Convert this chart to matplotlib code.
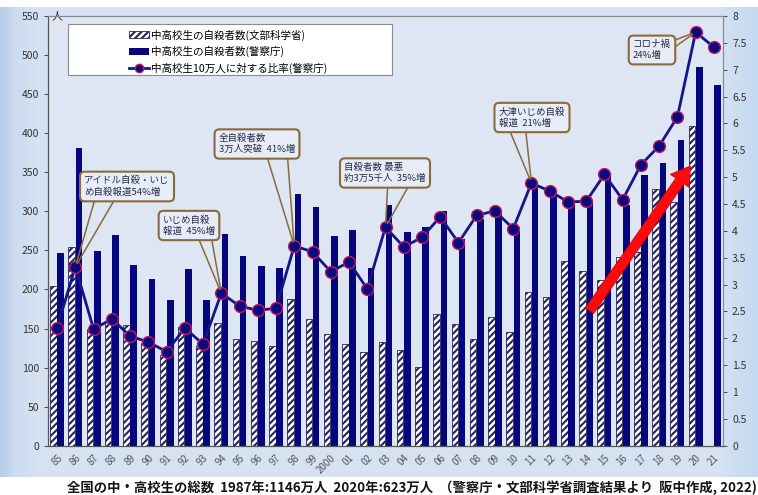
import numpy as np
import matplotlib
matplotlib.use('Agg')
import matplotlib.pyplot as plt
from matplotlib.patches import Patch, Rectangle
from matplotlib.lines import Line2D

plt.rcParams['font.family'] = ['Noto Sans CJK JP', 'DejaVu Sans']
plt.rcParams['hatch.linewidth'] = 1.5

# --- data ---
years = ['85', '86', '87', '88', '89', '90', '91', '92', '93', '94', '95', '96',
         '97', '98', '99', '2000', '01', '02', '03', '04', '05', '06', '07', '08',
         '09', '10', '11', '12', '13', '14', '15', '16', '17', '18', '19', '20', '21']
mext = [205, 254, 150, 160, 154, 131, 116, 152, 127, 157, 136, 134,
        127, 188, 162, 143, 130, 120, 133, 122, 101, 169, 156, 136,
        165, 146, 197, 190, 236, 223, 212, 241, 248, 328, 312, 409, np.nan]
police = [247, 381, 249, 270, 231, 214, 187, 226, 187, 271, 243, 230,
          228, 322, 306, 269, 276, 228, 308, 274, 280, 300, 265, 290,
          300, 280, 331, 323, 310, 312, 345, 308, 346, 362, 391, 485, 462]
rate = [2.20, 3.33, 2.17, 2.36, 2.04, 1.93, 1.75, 2.19, 1.89, 2.84, 2.60, 2.52,
        2.56, 3.72, 3.61, 3.24, 3.42, 2.92, 4.07, 3.70, 3.88, 4.26, 3.78, 4.29,
        4.37, 4.04, 4.89, 4.74, 4.54, 4.55, 5.05, 4.58, 5.23, 5.58, 6.12, 7.70, 7.42]

legend_labels = ['中高校生の自殺者数(文部科学省)',
                 '中高校生の自殺者数(警察庁)',
                 '中高校生10万人に対する比率(警察庁)']

note_texts = ['アイドル自殺・いじ\nめ自殺報道54%増',
              'いじめ自殺\n報道  45%増',
              '全自殺者数\n3万人突破  41%増',
              '自殺者数 最悪\n約3万5千人  35%増',
              '大津いじめ自殺\n報道  21%増',
              'コロナ禍\n24%増']
note_years = ['86', '94', '98', '03', '11', '20']

footer = '全国の中・高校生の総数  1987年:1146万人  2020年:623万人  （警察庁・文部科学省調査結果より  阪中作成, 2022)'

navy = '#05057e'
brown = '#8a6a3c'

W, H = 758, 495
fig = plt.figure(figsize=(W / 100, H / 100), dpi=100)
fig.patch.set_facecolor('white')

def fx(px):
    return px / W

def fy(py):
    return 1 - py / H

# background panel with a soft blue gradient
bg = fig.add_axes([0, fy(477), 1, fy(7) - fy(477)], zorder=-10)
xs = np.arange(W)
stops = [0, 14, 40, 715, 758]
cols = np.array([[0.72, 0.80, 0.91], [0.80, 0.86, 0.94], [0.84, 0.89, 0.95],
                 [0.84, 0.89, 0.95], [0.77, 0.85, 0.94]])
grad = np.stack([np.interp(xs, stops, cols[:, k]) for k in range(3)], axis=-1)
bg.imshow(grad[None, :, :], aspect='auto', extent=[0, 1, 0, 1])
bg.axis('off')

# main axes
L, R, T, B = 48, 723, 16, 445.7
ax = fig.add_axes([fx(L), fy(B), fx(R) - fx(L), fy(T) - fy(B)])
ax.set_facecolor('#dde6f2')
ax2 = ax.twinx()

def axf(px, py):
    return ((px - L) / (R - L), (B - py) / (B - T))

x = np.arange(len(years))
ax.bar(x - 0.2, mext, width=0.36, color='white', edgecolor='#24245e',
       hatch='/////', linewidth=0.6, zorder=2)
ax.bar(x + 0.2, police, width=0.36, color=navy, linewidth=0, zorder=2)

ax2.plot(x, rate, color='#15158a', lw=2, marker='o', ms=8.5,
         mfc='#0a0a80', mec='#c4155a', mew=1.0, zorder=4)

ax.set_xlim(-0.5, len(years) - 0.5)
ax.set_ylim(0, 550)
ax2.set_ylim(0, 8)
ax.set_yticks(np.arange(0, 551, 50))
ax2.set_yticks(np.arange(0, 8.01, 0.5))
ax2.set_yticklabels(['0', '0.5', '1', '1.5', '2', '2.5', '3', '3.5', '4', '4.5',
                     '5', '5.5', '6', '6.5', '7', '7.5', '8'])
ax.set_xticks(x)
ax.set_xticklabels(years, rotation=45, ha='right', rotation_mode='anchor',
                   fontsize=7, color='#555555')
ax.tick_params(axis='x', length=0, pad=5)
ax.tick_params(axis='y', labelsize=7.5, colors='#333333', length=3, width=0.6)
ax2.tick_params(axis='y', labelsize=7.5, colors='#333333', length=3, width=0.6)
for s in ['left', 'bottom']:
    ax.spines[s].set_color('#555555')
for s in ['top', 'right']:
    ax.spines[s].set_color('#8a8a8a')
    ax2.spines[s].set_color('#8a8a8a')
ax2.spines['left'].set_color('#555555')
ax2.spines['bottom'].set_color('#555555')
for a in (ax, ax2):
    for s in a.spines.values():
        s.set_linewidth(0.8)

ax.text(0.006, 1.0, '人', transform=ax.transAxes, fontsize=8, va='center',
        ha='left', color='#333333')

# legend in a wide white box
bx0, by0 = axf(68, 75)
bx1, by1 = axf(392, 24)
ax2.add_patch(Rectangle((bx0, by0), bx1 - bx0, by1 - by0, transform=ax2.transAxes,
                        facecolor='white', edgecolor='#8a8a8a', lw=0.8, zorder=6))
handles = [Patch(facecolor='white', edgecolor='#24245e', hatch='/////', lw=0.6),
           Patch(facecolor=navy, lw=0),
           Line2D([], [], color='#15158a', lw=2, marker='o', ms=6,
                  mfc='#0a0a80', mec='#c4155a')]
lx, ly = axf(125, 25)
leg = ax2.legend(handles, legend_labels, loc='upper left', bbox_to_anchor=(lx, ly),
                 frameon=False, fontsize=7.6, handlelength=1.9, handleheight=0.6,
                 handletextpad=0.15, labelspacing=0.5, borderaxespad=0)
leg.set_zorder(7)

# call-out boxes
box_px = [(127, 186.5), (189, 225.5), (257, 144), (385, 173), (532, 117.5), (652, 50)]
line_px = [((97, 192), (119, 192)), ((195, 230), (210, 230)), ((265, 150), (287, 150)),
           ((388, 180), (412, 180)), ((507, 124), (525, 124)), ((662, 45), (668, 52))]
for txt, yr, (cx, cy), starts in zip(note_texts, note_years, box_px, line_px):
    i = years.index(yr)
    for sp in starts:
        ax2.annotate('', xy=(i, rate[i]), xycoords='data',
                     xytext=axf(*sp), textcoords='axes fraction',
                     arrowprops=dict(arrowstyle='-', color=brown, lw=1.1,
                                     shrinkA=0, shrinkB=3), zorder=5)
    ax2.text(*axf(cx, cy), txt, transform=ax2.transAxes, ha='center', va='center',
             multialignment='left', fontsize=6.8, color='#2a2a4a', zorder=6,
             linespacing=1.3,
             bbox=dict(boxstyle='round,pad=0.45,rounding_size=0.5',
                       facecolor='#e6edf6', edgecolor=brown, lw=1.5))

# red trend arrow
ax.annotate('', xy=(34.8, 361), xytext=(29.1, 170), xycoords='data',
            arrowprops=dict(arrowstyle='simple,head_length=1.1,head_width=1.4,tail_width=0.6',
                            mutation_scale=12, facecolor='#ff0a0a',
                            edgecolor='#d00000', lw=0.5), zorder=8)

fig.text(fx(412), fy(488), footer, ha='center', va='center', fontsize=9.6,
         weight='bold', color='#141414')

fig.savefig('out.png', dpi=100)
